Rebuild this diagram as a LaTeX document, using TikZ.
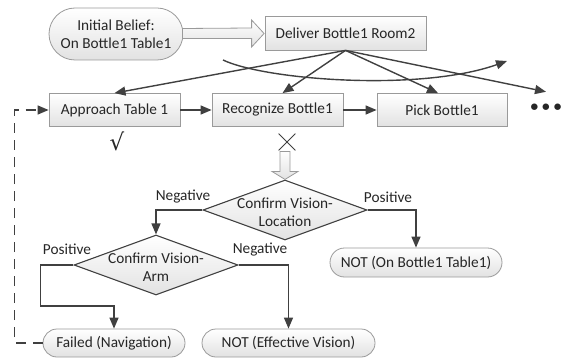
\documentclass[tikz,border=0pt]{standalone}
\usepackage{fontspec}
\setmainfont{Carlito}
\newfontfamily\dejavu{DejaVu Sans}
\usetikzlibrary{arrows.meta,shapes.geometric,shapes.misc,calc}
\definecolor{ln}{HTML}{404040}
\definecolor{bd}{HTML}{9A9A9A}
\definecolor{fl}{HTML}{E2E2E2}
\begin{document}
\begin{tikzpicture}[x=1pt,y=-1pt,
  every node/.style={font=\fontsize{15.3}{18}\selectfont, text=black!85},
  box/.style={draw=bd, top color=white, bottom color=fl, inner sep=0, line width=0.8},
  pill/.style={rounded rectangle, draw=bd, top color=white, bottom color=fl, inner sep=0, line width=0.8},
  dia/.style={diamond, draw=ln, top color=white, bottom color=fl, inner sep=0, line width=1.1, minimum width=164, minimum height=60, aspect=2.73},
  hollow/.style={draw=bd, top color=white, bottom color=fl, line width=0.8},
  arr/.style={draw=ln, line width=1.4, -{Triangle[length=11pt,width=9pt]}},
  lbl/.style={inner sep=0}
]
\useasboundingbox (0,0) rectangle (561,358);

% nodes
\node[pill, minimum width=134, minimum height=52, align=center] (init) at (116,34) {Initial Belief:\\On Bottle1 Table1};
\node[box, minimum width=161, minimum height=34] (deliver) at (345.5,33) {Deliver Bottle1 Room2};
\node[box, minimum width=131, minimum height=33] (app) at (114.5,110) {Approach Table 1};
\node[box, minimum width=131, minimum height=33] (rec) at (277.5,110) {Recognize Bottle1};
\node[box, minimum width=130, minimum height=33] (pick) at (442,110) {Pick Bottle1};
\node[minimum height=32, inner sep=0] (dots) at (546,108) {\textbf{•\hspace{4pt}•\hspace{4pt}•}};

\node[dia, label={[align=center, yshift=-2pt]center:Confirm Vision-\\Location}] (d1) at (285,210) {};
\node[dia, label={[align=center, yshift=-2pt]center:Confirm Vision-\\Arm}] (d2) at (156,265) {};

\node[pill, minimum width=172, minimum height=29] (not1) at (416,262.5) {NOT (On Bottle1 Table1)};
\node[pill, minimum width=142, minimum height=28] (failed) at (114,343) {Failed (Navigation)};
\node[pill, minimum width=173, minimum height=28] (not2) at (288.5,343) {NOT (Effective Vision)};

\node[lbl] (neg1) at (183,197) {Negative};
\node[lbl] (pos1) at (388,197) {Positive};
\node[lbl] (pos2) at (67,249) {Positive};
\node[lbl] (neg2) at (260,250) {Negative};

\node[inner sep=0, font=\dejavu\fontsize{23}{23}\selectfont] (check) at (117,141) {√};
\node[cross out, draw=ln, line width=0.8, minimum size=16, inner sep=0] (xmark) at (287,142) {};

% hollow arrows
\path[hollow] ($(init.east)+(-1,-5.5)$) -- ($(deliver.west)+(-13,-5)$) -- ($(deliver.west)+(-13,-13)$)
  -- ($(deliver.west)+(-0.5,0.5)$) -- ($(deliver.west)+(-13,14)$) -- ($(deliver.west)+(-13,5.5)$)
  -- ($(init.east)+(-1,4.5)$) -- cycle;
\path[hollow] ($(d1.north)+(-5,-28)$) -- ($(d1.north)+(5,-28)$) -- ($(d1.north)+(5,-8)$) -- ($(d1.north)+(13,-8)$)
  -- (d1.north) -- ($(d1.north)+(-13,-8)$) -- ($(d1.north)+(-5,-8)$) -- cycle;

% connectors
\draw[arr] (deliver.south) -- (app.north);
\draw[arr] (deliver.south) -- ($(rec.north)+(5,0)$);
\draw[arr] (deliver.south) -- ($(pick.north)+(-4,0)$);
\draw[arr] (deliver.south) -- (dots.north);
\draw[arr] (app) -- (rec);
\draw[arr] (rec) -- (pick);
\coordinate (cs) at (223,60);
\coordinate (ce) at (507,61);
\draw[arr] (cs) .. controls (265,80) and (420,92) .. (ce);

\draw[arr] (d1.west) -| (d2.north);
\draw[arr] (d1.east) -| (not1.north);
\draw[arr] (d2.east) -| (not2.north);
\draw[arr] (d2.west) -- ++(-33,0) -- ++(0,41) -| (failed.north);
\draw[arr, dash pattern=on 10pt off 7pt] (failed.west) -- ++(-28,0) |- (app.west);
\end{tikzpicture}
\end{document}
